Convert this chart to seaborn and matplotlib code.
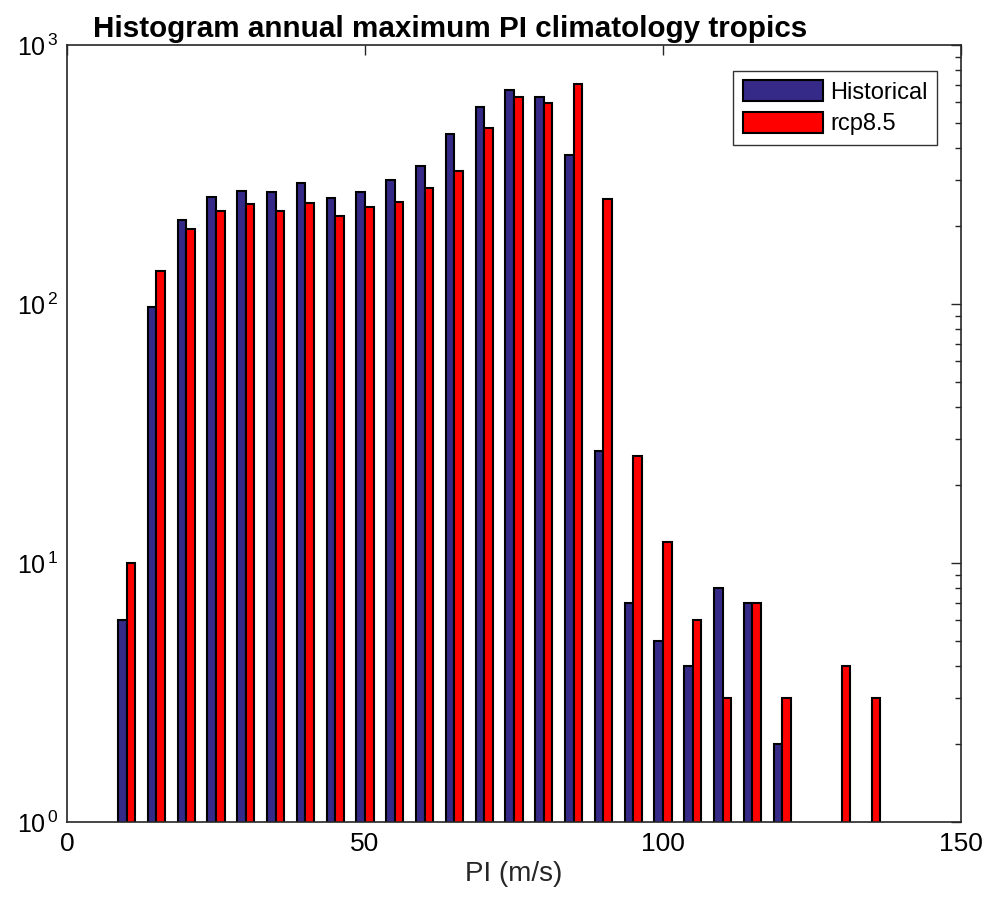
import numpy as np
import pandas as pd
import matplotlib
matplotlib.use("Agg")
import matplotlib.pyplot as plt
import seaborn as sns
from matplotlib.ticker import FixedLocator, LogLocator, NullFormatter

# ---- data ----
bin_centers = [0, 5, 10, 15, 20, 25, 30, 35, 40, 45, 50, 55, 60, 65, 70, 75,
               80, 85, 90, 95, 100, 105, 110, 115, 120, 125, 130, 135, 140, 145, 150]
historical = [0, 0, 6, 97, 211, 260, 274, 271, 292, 257, 271, 301, 341, 455, 576, 672,
              628, 377, 27, 7, 5, 4, 8, 7, 2, 0, 0, 0, 0, 0, 0]
rcp85 = [0, 0, 10, 134, 194, 228, 243, 228, 246, 219, 236, 247, 280, 326, 480, 628,
         599, 705, 254, 26, 12, 6, 3, 7, 3, 0, 4, 3, 0, 0, 0]
series_names = ["Historical", "rcp8.5"]
series_colors = ["#352A87", "#FF0000"]
x_ticks = [0, 50, 100, 150]
y_ticks = [1, 10, 100, 1000]
y_tick_labels = [r"$10^{\,0}$", r"$10^{\,1}$", r"$10^{\,2}$", r"$10^{\,3}$"]
title = "Histogram annual maximum PI climatology tropics"
x_label = "PI (m/s)"

rows = []
for name, vals in zip(series_names, [historical, rcp85]):
    for c, v in zip(bin_centers, vals):
        rows.append({"PI": c, "count": v, "series": name})
df = pd.DataFrame(rows)

sns.set_style("white")
plt.rcParams["font.family"] = ["Liberation Sans", "DejaVu Sans"]
plt.rcParams["mathtext.fontset"] = "custom"
plt.rcParams["mathtext.rm"] = "Liberation Sans"
plt.rcParams["mathtext.it"] = "Liberation Sans:italic"
plt.rcParams["text.color"] = "black"

fig = plt.figure(figsize=(9.84, 9.07), dpi=100)
ax = fig.add_axes([67 / 984, 85 / 907, (961 - 67) / 984, (822 - 45) / 907])

sns.barplot(data=df, x="PI", y="count", hue="series", hue_order=series_names,
            palette=series_colors, native_scale=True,
            width=0.571, errorbar=None, edgecolor="black", linewidth=1.5,
            saturation=1, ax=ax)
ax.set_yscale("log")

ax.set_xlim(0, 150)
ax.set_ylim(1, 1000)
ax.xaxis.set_major_locator(FixedLocator(x_ticks))
ax.set_xticklabels([str(t) for t in x_ticks])
ax.yaxis.set_major_locator(FixedLocator(y_ticks))
ax.set_yticklabels(y_tick_labels)
ax.yaxis.set_minor_locator(LogLocator(base=10, subs=np.arange(2, 10)))
ax.yaxis.set_minor_formatter(NullFormatter())

ax.tick_params(axis="both", which="both", direction="in", top=True, right=True,
               colors="#262626", labelcolor="black")
ax.tick_params(axis="x", which="major", labelsize=19, pad=7)
ax.tick_params(axis="y", which="major", labelsize=18, pad=6)
ax.tick_params(axis="both", which="major", length=7, width=1)
ax.tick_params(axis="y", which="minor", length=4, width=1)
for s in ax.spines.values():
    s.set_color("#262626")
    s.set_linewidth(1.2)

ax.set_xlabel(x_label, fontsize=20, labelpad=4, color="#262626")
ax.set_ylabel("")
ax.set_title(title, fontsize=21.3, fontweight="bold", loc="left", x=0.029, pad=6,
             color="black")

leg = ax.legend(loc="upper right", bbox_to_anchor=(0.973, 0.967), fontsize=17,
                frameon=True, fancybox=False, edgecolor="black",
                handlelength=3.4, handleheight=1.0, borderpad=0.4,
                labelspacing=0.33, handletextpad=0.3, borderaxespad=0)
leg.get_frame().set_linewidth(1.0)
for h in leg.legend_handles:
    h.set_edgecolor("black")
    h.set_linewidth(1.5)

fig.savefig("out.png", dpi=100)
